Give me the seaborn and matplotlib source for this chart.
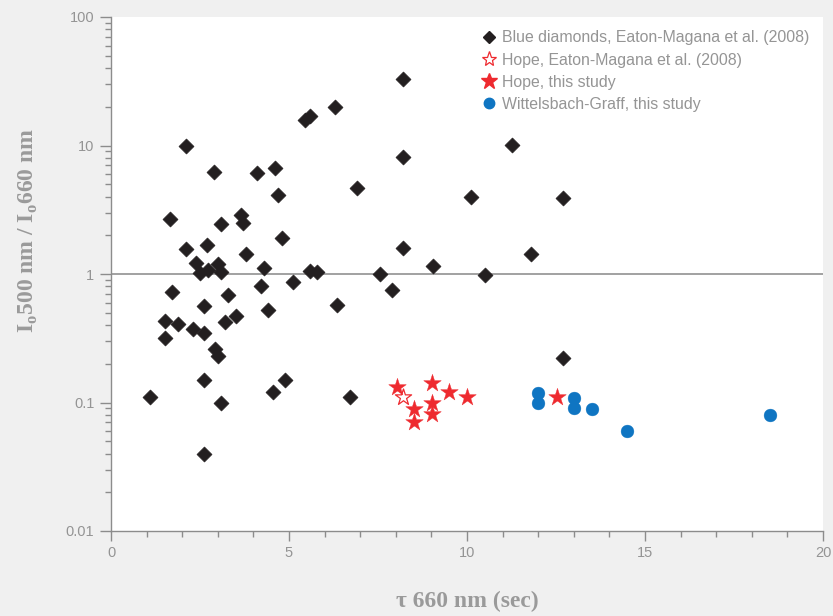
import numpy as np
import pandas as pd
import seaborn as sns
import matplotlib
matplotlib.use("Agg")
import matplotlib.pyplot as plt
from matplotlib.ticker import LogLocator, FixedLocator, NullFormatter, FixedFormatter, MultipleLocator
from matplotlib.lines import Line2D

# Blue diamonds, Eaton-Magana et al. (2008)
blue_x = [1.1, 2.1, 1.66, 1.71, 1.52, 1.52, 1.88, 2.1, 2.3, 2.39, 2.5, 2.6, 2.6, 2.7, 2.72,
          2.9, 2.6, 2.6, 2.92, 3.0, 3.0, 3.1, 3.1, 3.1, 3.2, 3.3, 3.5, 3.65, 3.7, 3.8,
          4.1, 4.3, 4.2, 4.4, 4.6, 4.7, 4.8, 4.55, 4.9, 5.1, 5.45, 5.6, 5.6, 5.8, 6.35,
          6.3, 6.9, 6.7, 8.2, 8.2, 8.2, 7.55, 7.9, 9.05, 10.1, 10.5, 11.25, 11.8, 12.7, 12.7]
blue_y = [0.11, 10.0, 2.68, 0.72, 0.43, 0.32, 0.41, 1.56, 0.37, 1.22, 1.02, 0.35, 0.56, 1.68, 1.07,
          6.2, 0.15, 0.04, 0.26, 0.23, 1.2, 1.04, 2.45, 0.10, 0.42, 0.69, 0.47, 2.9, 2.5, 1.43,
          6.1, 1.12, 0.81, 0.52, 6.7, 4.1, 1.92, 0.12, 0.15, 0.87, 15.8, 17.0, 1.06, 1.04, 0.57,
          20.0, 4.7, 0.11, 33.0, 8.2, 1.6, 1.0, 0.75, 1.15, 4.0, 0.98, 10.1, 1.43, 3.9, 0.22]

# Hope, Eaton-Magana et al. (2008)
hope_old_x = [8.2]
hope_old_y = [0.11]

# Hope, this study
hope_x = [8.03, 9.02, 9.5, 10.0, 8.5, 9.02, 9.02, 8.5, 12.53]
hope_y = [0.132, 0.142, 0.12, 0.11, 0.089, 0.10, 0.081, 0.07, 0.11]

# Wittelsbach-Graff, this study
witt_x = [12.0, 12.0, 13.0, 13.0, 13.5, 14.5, 18.5]
witt_y = [0.119, 0.099, 0.108, 0.091, 0.089, 0.06, 0.08]

labels = ["Blue diamonds, Eaton-Magana et al. (2008)",
          "Hope, Eaton-Magana et al. (2008)",
          "Hope, this study",
          "Wittelsbach-Graff, this study"]

x_ticks = [0, 5, 10, 15, 20]
y_ticks = [0.01, 0.1, 1, 10, 100]
y_tick_labels = ["0.01", "0.1", "1", "10", "100"]

sns.set_theme(style="white")
plt.rcParams['font.family'] = ['Liberation Sans', 'DejaVu Sans']

BG = "#f0f0f0"
GRAY = "#8c8c8c"
RED = "#ee2a2f"
BLUE = "#0f75c2"
BLACK = "#231f20"

fig = plt.figure(figsize=(8.33, 6.16), dpi=100, facecolor=BG)
ax = fig.add_axes([111/833, 85/616, 712/833, 514/616])
ax.set_facecolor("white")

ax.axhline(1, color="#9a9a9a", lw=1.3, zorder=1)

df_b = pd.DataFrame({"x": blue_x, "y": blue_y})
df_ho = pd.DataFrame({"x": hope_old_x, "y": hope_old_y})
df_h = pd.DataFrame({"x": hope_x, "y": hope_y})
df_w = pd.DataFrame({"x": witt_x, "y": witt_y})

sns.scatterplot(data=df_b, x="x", y="y", marker="D", s=58, color=BLACK,
                edgecolor=BLACK, linewidth=0.5, ax=ax, zorder=3, legend=False)
sns.scatterplot(data=df_ho, x="x", y="y", marker="*", s=150, facecolor="white",
                edgecolor=RED, linewidth=0.9, ax=ax, zorder=3, legend=False)
sns.scatterplot(data=df_h, x="x", y="y", marker="*", s=175, color=RED,
                edgecolor=RED, linewidth=0.3, ax=ax, zorder=4, legend=False)
sns.scatterplot(data=df_w, x="x", y="y", marker="o", s=85, color=BLUE,
                edgecolor=BLUE, linewidth=0.3, ax=ax, zorder=3, legend=False)

ax.set_yscale("log")
ax.set_xlim(0, 20)
ax.set_ylim(0.01, 100)

ax.yaxis.set_major_locator(FixedLocator(y_ticks))
ax.yaxis.set_major_formatter(FixedFormatter(y_tick_labels))
ax.yaxis.set_minor_locator(LogLocator(base=10, subs=np.arange(2, 10)))
ax.yaxis.set_minor_formatter(NullFormatter())
ax.xaxis.set_major_locator(FixedLocator(x_ticks))
ax.xaxis.set_minor_locator(MultipleLocator(1))

for side in ["top", "right"]:
    ax.spines[side].set_visible(False)
for side in ["left", "bottom"]:
    ax.spines[side].set_color(GRAY)
    ax.spines[side].set_linewidth(1.0)

ax.tick_params(axis="both", which="major", direction="out", length=7, width=1,
               color=GRAY, labelcolor="#949494", labelsize=10.5, pad=4)
ax.tick_params(axis="both", which="minor", direction="out", length=4, width=1, color=GRAY)
ax.tick_params(axis="y", which="major", length=8)
ax.tick_params(axis="x", which="both", bottom=True)
ax.tick_params(axis="y", which="both", left=True)

ax.set_xlabel(r"τ 660 nm (sec)", fontsize=17, fontweight="bold", color="#9a9a9a",
              family=["Liberation Serif", "DejaVu Serif"], labelpad=22)
ax.set_ylabel(r"I$_\mathregular{o}$500 nm / I$_\mathregular{o}$660 nm", fontsize=17,
              fontweight="bold", color="#9a9a9a",
              family=["Liberation Serif", "DejaVu Serif"])
ax.yaxis.set_label_coords(-0.100, 0.584)

handles = [
    Line2D([], [], ls="", marker="D", ms=6.5, color=BLACK),
    Line2D([], [], ls="", marker="*", ms=11, markerfacecolor="white", markeredgecolor=RED, markeredgewidth=0.9),
    Line2D([], [], ls="", marker="*", ms=12, color=RED),
    Line2D([], [], ls="", marker="o", ms=7.5, color=BLUE),
]
leg = ax.legend(handles, labels, loc="upper right", bbox_to_anchor=(1.0, 1.0),
                frameon=False, fontsize=11.4, handlelength=1.0, handletextpad=0.35,
                labelspacing=0.45, borderaxespad=0.45)
for t in leg.get_texts():
    t.set_color("#959595")

fig.savefig("out.png", dpi=100, facecolor=BG)
